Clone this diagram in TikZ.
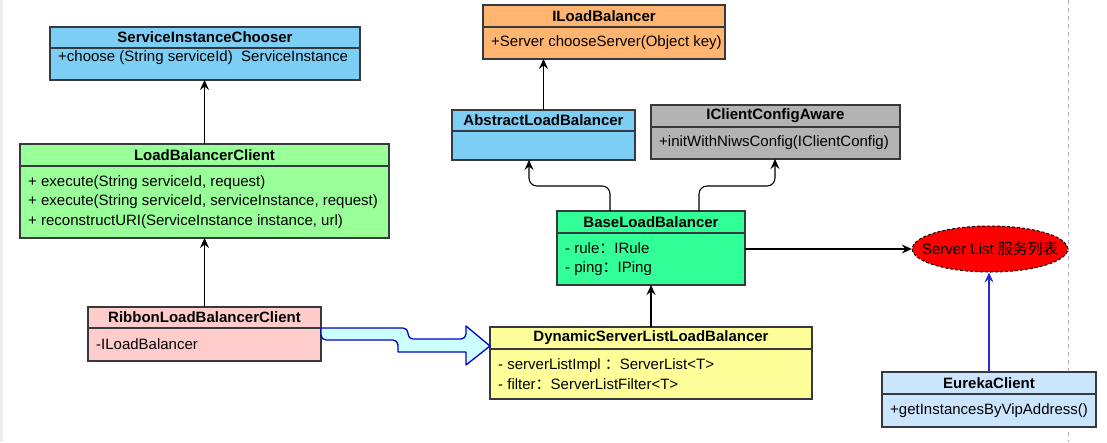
\documentclass[tikz,border=0pt]{standalone}
\usepackage{fontspec}
\setmainfont{Liberation Sans}
\newfontfamily\cjk{Noto Sans CJK SC}
\usetikzlibrary{arrows.meta,positioning,shapes.geometric}
\definecolor{edge}{HTML}{36393D}
\definecolor{skyfill}{HTML}{7DCEF4}
\definecolor{greenfill}{HTML}{99FF99}
\definecolor{pinkfill}{HTML}{FFCCCC}
\definecolor{orangefill}{HTML}{FFB570}
\definecolor{grayfill}{HTML}{B3B3B3}
\definecolor{mintfill}{HTML}{33FF99}
\definecolor{yellowfill}{HTML}{FFFF99}
\definecolor{paleblue}{HTML}{CCE5FF}
\definecolor{flowfill}{HTML}{CCFFFF}
\definecolor{flowline}{HTML}{0000CC}
\definecolor{linkblue}{HTML}{2B2BD0}
\newcommand{\umlsize}{\fontsize{15}{19.5}\selectfont}
% name, x, top y, width, head height, body height, fill, title, members
\newcommand{\umlclass}[9]{
  \node[classhead,fill=#7,minimum width=#4,minimum height=#5,anchor=north] (#1-h) at (#2,#3) {#8};
  \node[classbody,fill=#7,minimum width=#4,minimum height=#6,below=0pt of #1-h] (#1-b) {};
  \node[members,anchor=west] (#1-m) at ([xshift=8pt]#1-b.west) {#9};
}

\begin{document}
\begin{tikzpicture}[x=1pt,y=-1pt,font=\umlsize]
\tikzstyle{classhead}=[draw=edge,line width=1.2pt,font=\umlsize\bfseries,inner sep=0pt,outer sep=0pt]
\tikzstyle{classbody}=[draw=edge,line width=1.2pt,inner sep=0pt,outer sep=0pt]
\tikzstyle{members}=[align=left,inner sep=0pt,font=\umlsize]
\tikzstyle{link}=[line width=1.1pt,-{Stealth[length=10pt,width=9pt,inset=3.5pt]}]
\tikzstyle{flow}=[draw=flowline,fill=flowfill,line width=1.3pt,line join=round]

\fill[white] (0,0) rectangle (1107,442);
\useasboundingbox (0,0) rectangle (1107,442);
\fill[black!7] (0,0) rectangle (3,442);
\draw[black!30,line width=1pt,dash pattern=on 4pt off 4pt] (1068,0) -- (1068,442);

\umlclass{sic}{205}{27}{310}{21}{32}{skyfill}{ServiceInstanceChooser}{+choose (String serviceId)\ \ ServiceInstance\\[-4pt]\mbox{}}
\umlclass{lbc}{204.5}{144}{369}{22}{72}{greenfill}{LoadBalancerClient}{+ execute(String serviceId, request)\\+ execute(String serviceId, serviceInstance, request)\\+ reconstructURI(ServiceInstance instance, url)}
\umlclass{rlbc}{204.5}{307}{233}{21}{33}{pinkfill}{RibbonLoadBalancerClient}{-ILoadBalancer}
\umlclass{ilb}{604}{5}{242}{22}{32}{orangefill}{ILoadBalancer}{+Server chooseServer(Object key)}
\umlclass{alb}{543.5}{110}{183}{21}{29}{skyfill}{AbstractLoadBalancer}{}
\umlclass{icca}{775.5}{105}{249}{22}{32}{grayfill}{IClientConfigAware}{+initWithNiwsConfig(IClientConfig)}
\umlclass{blb}{651}{211}{188}{22}{52}{mintfill}{BaseLoadBalancer}{- rule{\cjk ：}IRule\\- ping{\cjk ：}IPing}
\umlclass{dslb}{651}{327}{322}{22}{50}{yellowfill}{DynamicServerListLoadBalancer}{- serverListImpl {\cjk ：}ServerList<T>\\- filter{\cjk ：}ServerListFilter<T>}
\umlclass{eureka}{989}{372}{214}{22}{33}{paleblue}{EurekaClient}{+getInstancesByVipAddress()}

\node[ellipse,draw,dash pattern=on 3pt off 2pt,line width=1pt,fill=red,minimum width=155,minimum height=46,inner xsep=-13pt,inner ysep=0pt] (sl) at (990,249) {Server List {\cjk 服务列表}};

\draw[link] (lbc-h.north) -- (lbc-h.north |- sic-b.south);
\draw[link] (rlbc-h.north) -- (rlbc-h.north |- lbc-b.south);
\draw[link] (alb-h.north) -- (alb-h.north |- ilb-b.south);
\draw[link,rounded corners=8pt] ([xshift=-41pt]blb-h.north) -- ++(0,-25) -| ([xshift=-14.5pt]alb-b.south);
\draw[link,rounded corners=8pt] ([xshift=48pt]blb-h.north) -- ++(0,-25) -| ([xshift=-0.5pt]icca-b.south);
\draw[link] (dslb-h.north) -- (blb-b.south);
\draw[link] (sl.west -| blb-b.east) -- (sl.west);
\draw[link,draw=linkblue] (eureka-h.north) -- (eureka-h.north |- sl.south);

\draw[flow] (rlbc-b.north east) [rounded corners=5pt] -- ++(87,0) -- ++(0,11) -- ++(58,0)
  [sharp corners] -- ++(0,-13) -- ++(24,20) -- ++(-24,19) -- ++(0,-13) -- ++(-68,0)
  [rounded corners=5pt] -- ++(0,-12) -- ++(-77,0) [sharp corners] -- cycle;
\end{tikzpicture}
\end{document}
